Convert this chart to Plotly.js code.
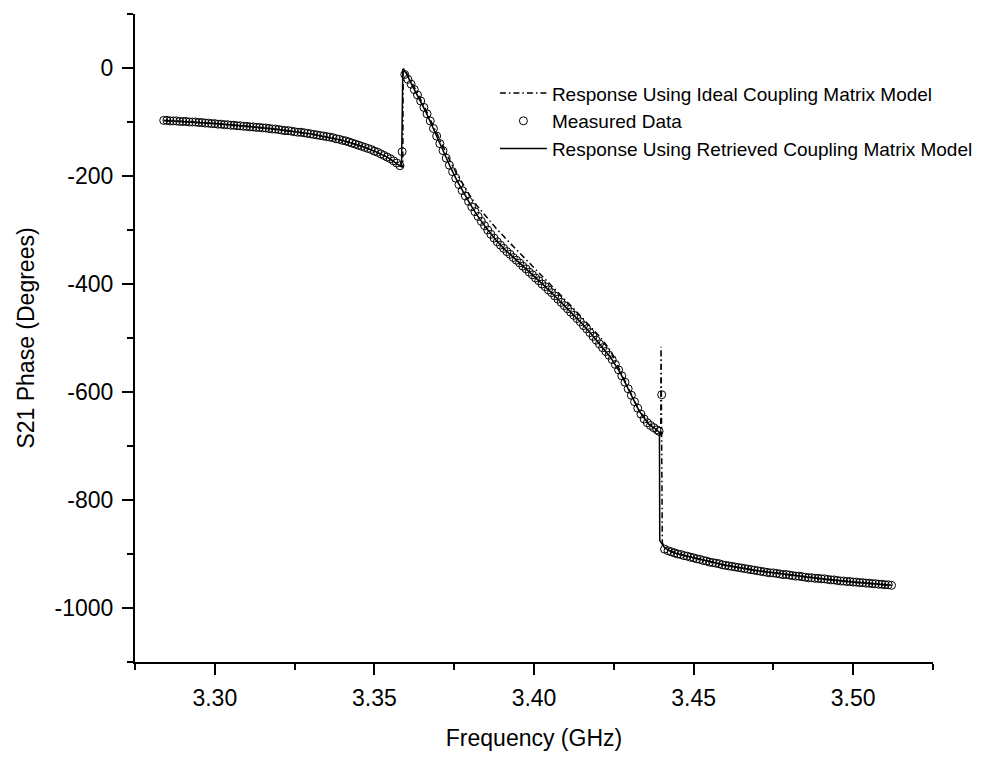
<!DOCTYPE html>
<html>
<head>
<meta charset="utf-8">
<script src="https://cdn.plot.ly/plotly-3.0.1.min.js"></script>
<style>html,body{margin:0;padding:0;background:#fff;}#chart{width:993px;height:759px;}</style>
</head>
<body>
<div id="chart"></div>
<script>
// Measured data (open circles)
const measFreq = [
  3.284,3.285,3.286,3.287,3.288,3.289,3.290,3.291,3.292,3.293,3.294,3.295,3.296,3.297,3.298,3.299,
  3.300,3.301,3.302,3.303,3.304,3.305,3.306,3.307,3.308,3.309,3.310,3.311,3.312,3.313,3.314,3.315,3.316,3.317,3.318,3.319,
  3.320,3.321,3.322,3.323,3.324,3.325,3.326,3.327,3.328,3.329,3.330,3.331,3.332,3.333,3.334,3.335,3.336,3.337,3.338,3.339,
  3.340,3.341,3.342,3.343,3.344,3.345,3.346,3.347,3.348,3.349,3.350,3.351,3.352,3.353,3.354,3.355,3.356,3.357,3.358,
  3.3587,
  3.3595,3.3605,3.3615,3.3625,3.3635,3.3645,3.3655,3.3665,3.3675,3.3685,3.3695,3.3705,3.3715,3.3725,3.3735,3.3745,3.3755,3.3765,3.3775,3.3785,
  3.3795,3.3805,3.3815,3.3825,3.3835,3.3845,3.3855,3.3865,3.3875,3.3885,3.3895,3.3905,3.3915,3.3925,3.3935,3.3945,3.3955,3.3965,3.3975,3.3985,
  3.3995,3.4005,3.4015,3.4025,3.4035,3.4045,3.4055,3.4065,3.4075,3.4085,3.4095,3.4105,3.4115,3.4125,3.4135,3.4145,3.4155,3.4165,3.4175,3.4185,
  3.4195,3.4205,3.4215,3.4225,3.4235,3.4245,3.4255,3.4265,3.4275,3.4285,3.4295,3.4305,3.4315,3.4325,3.4335,3.4345,3.4355,3.4365,3.4375,3.4385,3.4392,
  3.4400,
  3.4409,3.442,3.443,3.444,3.445,3.446,3.447,3.448,3.449,3.450,3.451,3.452,3.453,3.454,3.455,3.456,3.457,3.458,3.459,
  3.460,3.461,3.462,3.463,3.464,3.465,3.466,3.467,3.468,3.469,3.470,3.471,3.472,3.473,3.474,3.475,3.476,3.477,3.478,3.479,
  3.480,3.481,3.482,3.483,3.484,3.485,3.486,3.487,3.488,3.489,3.490,3.491,3.492,3.493,3.494,3.495,3.496,3.497,3.498,3.499,
  3.500,3.501,3.502,3.503,3.504,3.505,3.506,3.507,3.508,3.509,3.510,3.511,3.512];
const measPhase = [
  -97,-97,-98,-98,-98,-99,-99,-99,-100,-100,-100,-101,-101,-102,-102,-103,
  -103,-104,-104,-105,-105,-106,-106,-107,-107,-108,-108,-109,-109,-110,-110,-111,-111,-112,-113,-113,
  -114,-115,-116,-116,-117,-118,-119,-119,-120,-121,-122,-123,-124,-125,-126,-127,-128,-129,-131,-132,
  -134,-135,-137,-139,-141,-143,-145,-147,-149,-151,-154,-156,-159,-162,-165,-168,-172,-176,-181,
  -155,
  -12,-21,-30,-40,-50,-61,-73,-85,-98,-112,-126,-140,-153,-167,-180,-192,-204,-216,-227,-237,
  -247,-257,-266,-275,-284,-292,-300,-308,-315,-322,-328,-334,-340,-345,-351,-356,-361,-367,-372,-378,
  -383,-389,-394,-400,-405,-411,-416,-422,-428,-434,-440,-446,-452,-458,-464,-470,-477,-483,-490,-497,
  -504,-511,-518,-525,-532,-540,-549,-559,-570,-582,-594,-606,-618,-630,-641,-650,-657,-662,-666,-670,-673,
  -605,
  -891,-894,-896,-898,-900,-901,-903,-904,-906,-907,-909,-910,-912,-913,-915,-916,-917,-918,-920,
  -921,-922,-923,-924,-925,-926,-927,-928,-929,-930,-931,-932,-933,-934,-935,-935,-936,-937,-938,-938,
  -939,-940,-941,-941,-942,-943,-944,-944,-945,-945,-946,-946,-947,-948,-948,-949,-950,-950,-951,-951,
  -952,-952,-953,-953,-954,-954,-955,-955,-956,-956,-957,-957,-958];

// Response using ideal coupling matrix model (dash-dot)
const idealFreq = [3.284,3.290,3.300,3.310,3.320,3.330,3.340,3.346,3.350,3.354,3.358,3.3589,3.3590,3.3600,3.362,3.364,3.366,3.368,3.370,3.372,3.374,3.376,3.378,3.380,3.382,3.385,3.388,3.391,3.394,3.397,3.400,3.403,3.406,3.409,3.412,3.415,3.418,3.421,3.424,3.427,3.430,3.433,3.436,3.4385,3.4397,3.4398,3.4402,3.442,3.446,3.450,3.460,3.470,3.480,3.490,3.500,3.512];
const idealPhase = [-97,-99,-103,-108,-114,-122,-134,-145,-154,-165,-181,-184,0,-8,-30,-52,-76,-102,-127,-152,-176,-198,-218,-237,-254,-276,-296,-315,-334,-352,-370,-388,-406,-424,-443,-462,-481,-500,-524,-560,-598,-635,-658,-672,-680,-516,-880,-893,-901,-907,-921,-931,-939,-946,-952,-958];

// Response using retrieved coupling matrix model (solid)
const retrFreq = [3.284,3.290,3.300,3.310,3.320,3.330,3.340,3.346,3.350,3.354,3.358,3.3585,3.3589,3.3600,3.362,3.364,3.366,3.368,3.370,3.372,3.374,3.376,3.378,3.380,3.382,3.385,3.388,3.391,3.394,3.397,3.400,3.403,3.406,3.409,3.412,3.415,3.418,3.421,3.424,3.427,3.430,3.433,3.436,3.438,3.4393,3.4394,3.441,3.444,3.450,3.460,3.470,3.480,3.490,3.500,3.512];
const retrPhase = [-97,-99,-103,-108,-114,-122,-134,-145,-154,-165,-181,-183,-2,-10,-34,-56,-80,-106,-133,-160,-186,-210,-232,-252,-271,-296,-318,-337,-353,-369,-386,-402,-419,-437,-455,-473,-493,-514,-536,-564,-600,-636,-660,-668,-675,-875,-889,-898,-907,-921,-931,-939,-946,-952,-958];

const legendNames = ['Response Using Ideal Coupling Matrix Model','Measured Data','Response Using Retrieved Coupling Matrix Model'];
const xTickVals = [3.30,3.35,3.40,3.45,3.50];
const xTickText = ['3.30','3.35','3.40','3.45','3.50'];
const yTickVals = [0,-200,-400,-600,-800,-1000];
const yTickText = ['0','-200','-400','-600','-800','-1000'];

const FONT = 'Liberation Sans, Arial, Helvetica, sans-serif';
const AXFONT = 23;

const traces = [
  {x: idealFreq, y: idealPhase, name: legendNames[0], mode: 'lines', type: 'scatter',
   line: {color: '#000', width: 1.5, dash: '6px,3px,1.5px,3px'}},
  {x: measFreq, y: measPhase, name: legendNames[1], mode: 'markers', type: 'scatter',
   marker: {symbol: 'circle-open', size: 8, color: '#000', line: {width: 1, color: '#000'}}},
  {x: retrFreq, y: retrPhase, name: legendNames[2], mode: 'lines', type: 'scatter',
   line: {color: '#000', width: 1.5}}
];

const layout = {
  width: 993, height: 759,
  margin: {l: 135, r: 60, t: 14, b: 97},
  paper_bgcolor: '#fff', plot_bgcolor: '#fff',
  font: {family: FONT, color: '#000', size: AXFONT},
  showlegend: true,
  legend: {x: 0.451, y: 0.907, xanchor: 'left', yanchor: 'top', bgcolor: 'rgba(0,0,0,0)',
           font: {size: 19, family: FONT, color: '#000'}, itemwidth: 47, tracegroupgap: 0},
  xaxis: {
    range: [3.275, 3.525], showgrid: false, zeroline: false,
    showline: true, linecolor: '#000', linewidth: 2,
    ticks: 'outside', ticklen: 11, tickwidth: 2, tickcolor: '#000',
    tickvals: xTickVals, ticktext: xTickText, ticklabelstandoff: 3,
    minor: {ticks: 'outside', ticklen: 6, tickwidth: 2, tickcolor: '#000', dtick: 0.05, tick0: 3.275, showgrid: false},
    tickfont: {size: AXFONT, family: FONT, color: '#000'},
    title: {text: 'Frequency (GHz)', font: {size: AXFONT, family: FONT, color: '#000'}, standoff: 20}
  },
  yaxis: {
    range: [-1100, 100], showgrid: false, zeroline: false,
    showline: true, linecolor: '#000', linewidth: 2,
    ticks: 'outside', ticklen: 11, tickwidth: 2, tickcolor: '#000',
    tickvals: yTickVals, ticktext: yTickText, ticklabelstandoff: 4,
    minor: {ticks: 'outside', ticklen: 6, tickwidth: 2, tickcolor: '#000', dtick: 200, tick0: -1100, showgrid: false},
    tickfont: {size: AXFONT, family: FONT, color: '#000'},
    title: {text: 'S21 Phase (Degrees)', font: {size: AXFONT, family: FONT, color: '#000'}, standoff: 14}
  }
};

Plotly.newPlot('chart', traces, layout, {displayModeBar: false, staticPlot: true});
</script>
</body>
</html>
